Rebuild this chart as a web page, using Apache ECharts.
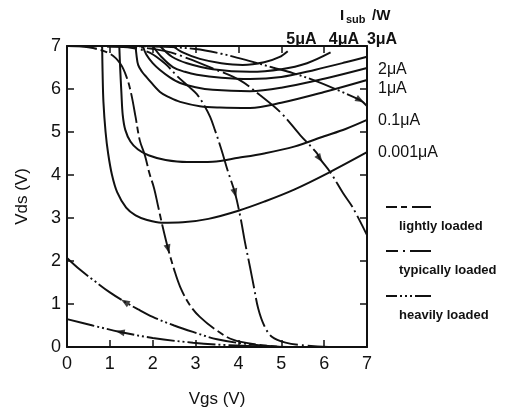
<!DOCTYPE html>
<html>
<head>
<meta charset="utf-8">
<script src="https://cdn.jsdelivr.net/npm/echarts@6/dist/echarts.min.js"></script>
<style>
html, body { margin: 0; padding: 0; background: #fff; }
#chart { width: 523px; height: 416px; }
</style>
</head>
<body>
<div id="chart"></div>
<script>
// ---- data: Isub/W contours, points are [Vgs, Vds] ----
var c0001 = [[0.82,7],[0.83,6.4],[0.85,5.7],[0.9,5.0],[0.96,4.5],[1.05,4.0],[1.17,3.6],[1.38,3.24],[1.6,3.06],[1.85,2.96],[2.2,2.89],[2.7,2.9],[3.3,2.98],[4.0,3.17],[4.6,3.38],[5.3,3.66],[6.1,4.05],[7,4.53]];
var c01 = [[1.22,7],[1.24,6.5],[1.27,5.9],[1.3,5.4],[1.36,5.05],[1.48,4.78],[1.65,4.6],[1.9,4.46],[2.3,4.35],[2.8,4.3],[3.4,4.31],[4.0,4.4],[4.6,4.5],[5.3,4.66],[6.0,4.9],[6.5,5.07],[7,5.28]];
var c1 = [[1.6,7],[1.62,6.8],[1.66,6.56],[1.75,6.4],[1.87,6.26],[2.17,5.93],[2.4,5.8],[2.64,5.7],[3.1,5.6],[3.57,5.57],[4.27,5.56],[5.0,5.68],[6.0,5.93],[7,6.21]];
var c2 = [[1.77,7],[1.85,6.8],[2.0,6.6],[2.17,6.44],[2.4,6.27],[2.64,6.14],[3.0,6.04],[3.4,5.98],[4.27,5.95],[5.0,6.03],[6.0,6.24],[7,6.49]];
var c3 = [[2.0,7],[2.2,6.75],[2.47,6.51],[2.75,6.4],[3.03,6.33],[3.6,6.26],[4.27,6.23],[5.0,6.28],[5.8,6.45],[6.5,6.62],[7,6.75]];
var c4 = [[2.17,7],[2.45,6.75],[2.8,6.6],[3.4,6.46],[4.27,6.4],[5.0,6.46],[5.6,6.6],[6.15,6.85]];
var c5 = [[2.47,7],[2.7,6.85],[3.1,6.7],[3.6,6.6],[4.1,6.56],[4.6,6.62],[4.95,6.74],[5.15,6.88]];

// ---- data: switching trajectories ----
var trajA = [[0,7],[0.5,6.97],[1.0,6.82],[1.25,6.58],[1.4,6.25],[1.5,5.88],[1.6,5.35],[1.7,4.8],[1.82,4.45],[1.92,4.05],[2.03,3.7],[2.12,3.3],[2.22,2.85],[2.36,2.28],[2.5,1.8],[2.64,1.4],[2.85,1.0],[3.1,0.7],[3.5,0.38],[3.87,0.17],[4.4,0.06],[5.0,0]];
var trajB = [[0,7],[1.2,6.98],[1.6,6.94],[1.94,6.84],[2.3,6.58],[2.57,6.3],[2.85,6.05],[3.03,5.88],[3.2,5.62],[3.34,5.35],[3.45,5.05],[3.6,4.6],[3.75,4.1],[3.92,3.58],[4.05,3.0],[4.15,2.45],[4.27,1.86],[4.36,1.4],[4.46,0.9],[4.6,0.5],[4.78,0.24],[5.1,0.1],[5.5,0.04],[6.1,0]];
var trajC = [[0,7],[1.5,6.98],[2.3,6.88],[2.8,6.72],[3.4,6.48],[4.04,6.2],[4.5,5.86],[5.0,5.44],[5.44,4.93],[5.83,4.51],[5.9,4.38],[6.14,4.07],[6.44,3.58],[6.67,3.24],[7,2.6]];
var trajD = [[0,7],[2.0,6.99],[3.0,6.93],[3.6,6.82],[4.27,6.65],[4.8,6.5],[5.27,6.37],[5.74,6.21],[6.3,5.98],[6.84,5.74],[7,5.6]];
var trajE = [[0,2.07],[0.3,1.8],[0.61,1.56],[1.0,1.27],[1.35,1.05],[1.65,0.88],[2.0,0.7],[2.5,0.5],[2.94,0.35],[3.5,0.18],[4.2,0.07],[5.0,0]];
var trajF = [[0,0.65],[0.6,0.5],[1.24,0.35],[2.0,0.21],[2.94,0.1],[3.8,0.04],[4.6,0.01],[5.2,0]];

// arrow heads: trajectory, [Vgs, Vds], direction along data
var arrowNames = ['A', 'B', 'C', 'D', 'E', 'F'];
var arrowPts = [[2.36,2.28],[3.92,3.58],[5.9,4.38],[6.84,5.74],[1.35,1.05],[1.24,0.35]];
var arrowDir = [1, 1, 1, 1, -1, -1];

var contourNames = ['0.001\u03bcA', '0.1\u03bcA', '1\u03bcA', '2\u03bcA'];
var topNames = ['5\u03bcA', '4\u03bcA', '3\u03bcA'];
var legendNames = ['lightly loaded', 'typically loaded', 'heavily loaded'];

var FONT = '"Liberation Sans", Arial, sans-serif';
var INK = '#111';
var dashLight = [30, 4, 7, 4];
var dashTyp = [30, 4, 2, 4];
var dashHeavy = [28, 3, 2, 3, 2, 3];

var chart = echarts.init(document.getElementById('chart'));

function contour(name, data) {
    return {
        name: name, type: 'line', data: data, smooth: 0.35, symbol: 'none',
        lineStyle: {color: INK, width: 2}, z: 3, silent: true, animation: false
    };
}
function traj(name, data, dash) {
    return {
        name: name, type: 'line', data: data, smooth: 0.35, symbol: 'none',
        lineStyle: {color: INK, width: 1.9, type: dash}, z: 4, silent: true, animation: false
    };
}
function axisX(pos, labels) {
    return {
        type: 'value', min: 0, max: 7, interval: 1, position: pos,
        axisLine: {onZero: false, lineStyle: {color: INK, width: 2}},
        axisTick: {inside: true, length: 7, lineStyle: {color: INK, width: 1.5}},
        axisLabel: {show: labels, color: INK, fontSize: 18, margin: 8, fontFamily: FONT},
        splitLine: {show: false}
    };
}
function axisY(pos, labels) {
    var a = axisX(pos, labels);
    a.axisLabel.margin = 6;
    return a;
}

var xb = axisX('bottom', true);
xb.name = 'Vgs (V)';
xb.nameLocation = 'middle';
xb.nameGap = 44;
xb.nameTextStyle = {color: INK, fontSize: 17, fontFamily: FONT};
var yl = axisY('left', true);
yl.name = 'Vds (V)';
yl.nameLocation = 'middle';
yl.nameGap = 36;
yl.nameTextStyle = {color: INK, fontSize: 17, fontFamily: FONT};

chart.setOption({
    animation: false,
    grid: {left: 67, right: 156, top: 46, bottom: 69},
    xAxis: [xb, axisX('top', false)],
    yAxis: [yl, axisY('right', false)],
    series: [
        contour('0.001', c0001),
        contour('0.1', c01),
        contour('1', c1),
        contour('2', c2),
        contour('3', c3),
        contour('4', c4),
        contour('5', c5),
        traj('A', trajA, dashLight),
        traj('B', trajB, dashTyp),
        traj('C', trajC, dashTyp),
        traj('D', trajD, dashHeavy),
        traj('E', trajE, dashHeavy),
        traj('F', trajF, dashHeavy),
        {id: 'arrows', type: 'scatter', data: [], symbol: 'triangle', symbolSize: [7, 9],
         itemStyle: {color: INK}, z: 5, silent: true}
    ]
});

function px(p) {
    return chart.convertToPixel({gridIndex: 0}, p);
}

// arrow heads rotated along the local direction of each trajectory
var trajMap = {A: trajA, B: trajB, C: trajC, D: trajD, E: trajE, F: trajF};
var arrowData = [];
for (var i = 0; i < arrowPts.length; i++) {
    var line = trajMap[arrowNames[i]];
    var k = 0, best = 1e9;
    for (var j = 0; j < line.length; j++) {
        var d = Math.abs(line[j][0] - arrowPts[i][0]) + Math.abs(line[j][1] - arrowPts[i][1]);
        if (d < best) { best = d; k = j; }
    }
    var p0 = px(line[Math.max(k - 1, 0)]);
    var p1 = px(line[Math.min(k + 1, line.length - 1)]);
    var dx = (p1[0] - p0[0]) * arrowDir[i];
    var dy = (p1[1] - p0[1]) * arrowDir[i];
    var ang = Math.atan2(-dy, dx) * 180 / Math.PI - 90;
    arrowData.push({value: arrowPts[i], symbolRotate: ang});
}

// labels and legend
var g = [];
var rightLabelV = [4.51, 5.26, 6.0, 6.44];
for (i = 0; i < contourNames.length; i++) {
    var q = px([7, rightLabelV[i]]);
    g.push({type: 'text', x: q[0] + 11, y: q[1], style: {text: contourNames[i], fill: INK,
        font: '16px ' + FONT, verticalAlign: 'middle', align: 'left'}});
}
var topLabelX = [5.47, 6.46, 7.35];
for (i = 0; i < topNames.length; i++) {
    var t = px([topLabelX[i], 7]);
    g.push({type: 'text', x: t[0], y: t[1] - 6, style: {text: topNames[i], fill: INK,
        font: 'bold 16px ' + FONT, verticalAlign: 'middle', align: 'center'}});
}
var corner = px([7, 7]);
g.push({type: 'text', x: corner[0] - 27, y: corner[1] - 30, style: {text: 'I', fill: INK,
    font: 'bold 15px ' + FONT, verticalAlign: 'middle', align: 'left'}});
g.push({type: 'text', x: corner[0] - 21, y: corner[1] - 26, style: {text: 'sub', fill: INK,
    font: 'bold 11px ' + FONT, verticalAlign: 'middle', align: 'left'}});
g.push({type: 'text', x: corner[0] + 5, y: corner[1] - 30, style: {text: '/W', fill: INK,
    font: 'bold 15px ' + FONT, verticalAlign: 'middle', align: 'left'}});

var legendDash = [[11, 4, 6, 5, 40], [12, 5, 2, 5, 40], [11, 3, 2, 3, 2, 3, 2, 3, 40]];
var legendY = [207, 251, 296];
for (i = 0; i < legendNames.length; i++) {
    g.push({type: 'line', shape: {x1: 386, y1: legendY[i], x2: 431, y2: legendY[i]},
        style: {stroke: INK, lineWidth: 1.8, lineDash: legendDash[i]}});
    g.push({type: 'text', x: 399, y: legendY[i] + 19, style: {text: legendNames[i], fill: INK,
        font: 'bold 13px ' + FONT, verticalAlign: 'middle', align: 'left'}});
}

chart.setOption({
    series: [{id: 'arrows', data: arrowData}],
    graphic: g
});
</script>
</body>
</html>
